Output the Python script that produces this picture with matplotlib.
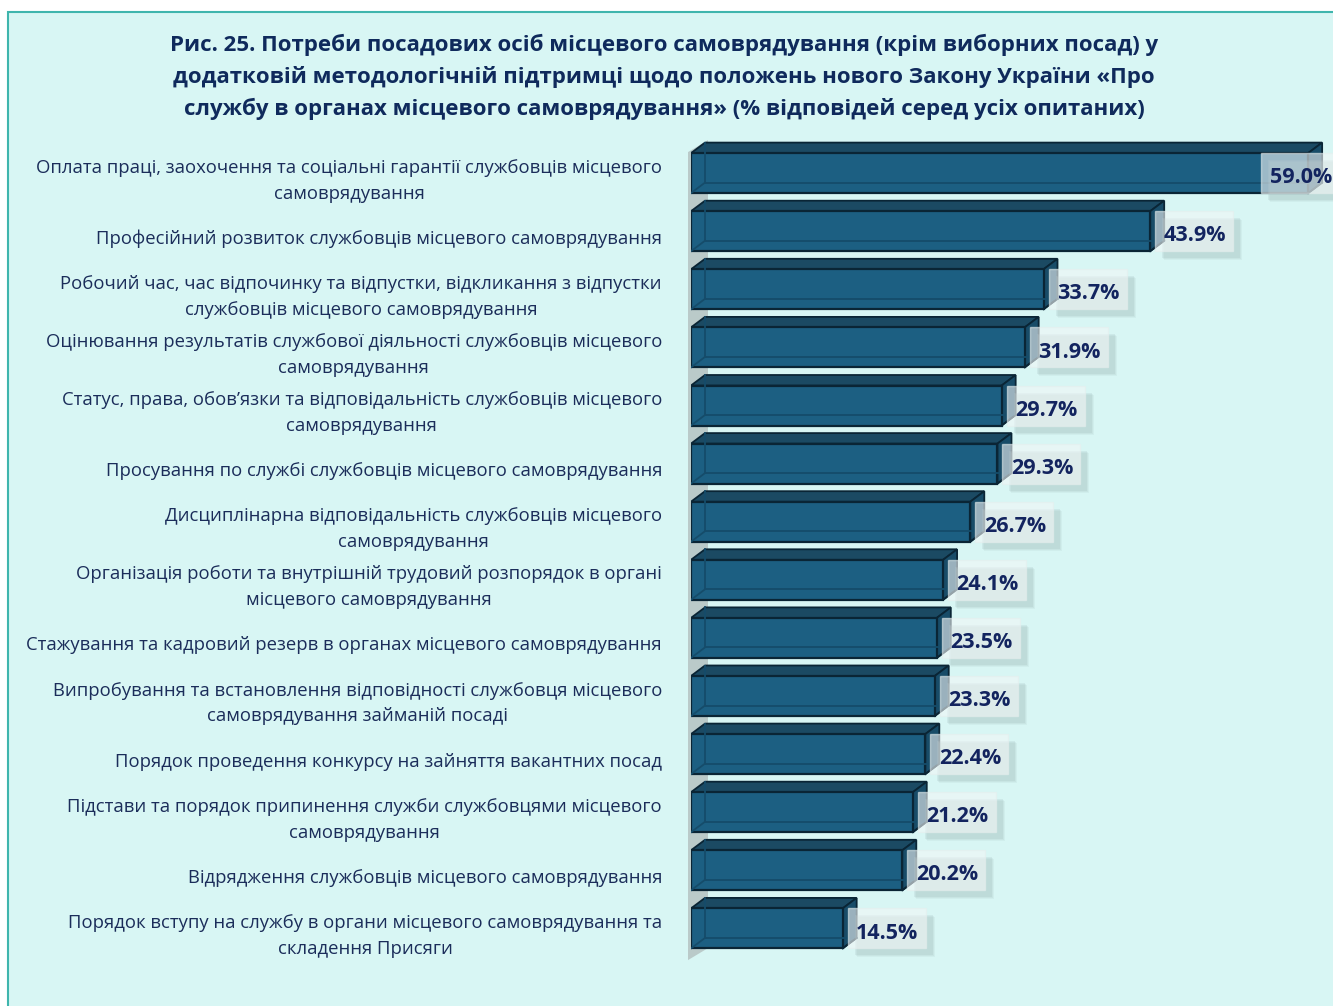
import matplotlib
matplotlib.use("Agg")
import matplotlib.pyplot as plt
from matplotlib.patches import Polygon, Rectangle

# data
categories = [
    "Оплата праці, заохочення та соціальні гарантії службовців місцевого\nсамоврядування",
    "Професійний розвиток службовців місцевого самоврядування",
    "Робочий час, час відпочинку та відпустки, відкликання з відпустки\nслужбовців місцевого самоврядування",
    "Оцінювання результатів службової діяльності службовців місцевого\nсамоврядування",
    "Статус, права, обов’язки та відповідальність службовців місцевого\nсамоврядування",
    "Просування по службі службовців місцевого самоврядування",
    "Дисциплінарна відповідальність службовців місцевого\nсамоврядування",
    "Організація роботи та внутрішній трудовий розпорядок в органі\nмісцевого самоврядування",
    "Стажування та кадровий резерв в органах місцевого самоврядування",
    "Випробування та встановлення відповідності службовця місцевого\nсамоврядування займаній посаді",
    "Порядок проведення конкурсу на зайняття вакантних посад",
    "Підстави та порядок припинення служби службовцями місцевого\nсамоврядування",
    "Відрядження службовців місцевого самоврядування",
    "Порядок вступу на службу в органи місцевого самоврядування та\nскладення Присяги",
]
values = [59.0, 43.9, 33.7, 31.9, 29.7, 29.3, 26.7, 24.1, 23.5, 23.3, 22.4, 21.2, 20.2, 14.5]

title = ("Рис. 25. Потреби посадових осіб місцевого самоврядування (крім виборних посад) у\n"
         "додатковій методологічній підтримці щодо положень нового Закону України «Про\n"
         "службу в органах місцевого самоврядування» (% відповідей серед усіх опитаних)")

W, H = 1333, 1006
fig = plt.figure(figsize=(W / 100, H / 100), dpi=100)
fig.patch.set_facecolor("white")

# cyan panel with teal border
panel = Rectangle((8 / W, -0.01), 1.2, 1.01 - 12 / H, transform=fig.transFigure,
                  facecolor="#d8f6f4", edgecolor="#3fb5ad", linewidth=1.5, zorder=-10)
fig.patches.append(panel)

fig.text(664 / W, 1 - 77 / H, title, ha="center", va="center", fontsize=16,
         fontweight="bold", color="#0f2a5c", family="Open Sans", linespacing=1.56)

# axes: x=0 at pixel 691, ~10.46 px per percent; rows 58.1 px apart, first row at 173 px
px_per_pct = 10.46
row_px = 58.1
ax_left, ax_top = 691, 115
ax_bottom = ax_top + 14.74 * row_px
ax = fig.add_axes([ax_left / W, 1 - ax_bottom / H, (W - ax_left) / W, (ax_bottom - ax_top) / H])
xmax = (W - ax_left) / px_per_pct
ax.set_xlim(0, xmax)
ax.set_ylim(13.74, -1.0)
ax.axis("off")

dx = 14 / px_per_pct     # depth in x (data units)
dy = 10.5 / row_px       # depth in y (data units)
hh = 20 / row_px         # half height of front face

front_col = "#1c5f82"
top_col = "#1b4a63"
side_col = "#184c68"
edge_col = "#0a2535"
inner_col = "#154c6a"

# grey side wall at the base
px2x = lambda p: (p - ax_left) / px_per_pct
px2y = lambda p: (p - 173) / row_px
wall = Polygon([(px2x(688), px2y(152)), (px2x(708), px2y(140)), (px2x(708), px2y(948)), (px2x(688), px2y(960))],
               closed=True, facecolor="#b5c3c2", edgecolor="none", alpha=0.85, zorder=1, clip_on=False)
ax.add_patch(wall)

gap = 5 / px_per_pct
bw = 78 / px_per_pct

for i, v in enumerate(values):
    y0, y1 = i - hh, i + hh
    # top face
    ax.add_patch(Polygon([(0, y0), (dx, y0 - dy), (v + dx, y0 - dy), (v, y0)], closed=True,
                         facecolor=top_col, edgecolor=edge_col, linewidth=1.3, zorder=2))
    # side face
    ax.add_patch(Polygon([(v, y0), (v + dx, y0 - dy), (v + dx, y1 - dy), (v, y1)], closed=True,
                         facecolor=side_col, edgecolor=edge_col, linewidth=1.3, zorder=2))
    # front face
    ax.barh(i, v, height=2 * hh, color=front_col, edgecolor=edge_col, linewidth=1.6, zorder=3)
    # hidden back edges seen through
    ax.plot([dx, dx, v + dx], [y0 - dy, y1 - dy, y1 - dy], color=inner_col, lw=1.3, zorder=4)
    ax.plot([0, dx], [y1, y1 - dy], color=inner_col, lw=1.3, zorder=4)
    ax.plot([v, v + dx], [y1, y1 - dy], color=edge_col, lw=1.3, zorder=4)

    # value label box with soft shadow
    bx = min(v + gap, xmax - bw * 0.92)
    for k, a in enumerate([0.10, 0.12, 0.16]):
        off = (3 - k) * 2.5
        ax.add_patch(Rectangle((bx + (6 + off * 0.4) / px_per_pct, y0 + (6 + off * 0.4) / row_px),
                               bw, 2 * hh, facecolor="#8fa9aa", edgecolor="none", alpha=a,
                               zorder=4, clip_on=False))
    ax.add_patch(Rectangle((bx, y0), bw, 2 * hh, facecolor="#f2f6f6", edgecolor="#e6eeee",
                           alpha=0.6, linewidth=1, zorder=5, clip_on=False))
    ax.text(bx + bw / 2 + 0.05, i + 0.08, f"{v:.1f}%", ha="center", va="center", fontsize=15.5,
            fontweight="bold", color="#13245f", family="Open Sans", zorder=6, clip_on=False)

    ax.text(-29 / px_per_pct, i + 7.5 / row_px, categories[i], ha="right", va="center",
            multialignment="center", fontsize=13.3, color="#1b2d5a", family="Open Sans",
            linespacing=1.56, clip_on=False)

fig.savefig("out.png", dpi=100, facecolor=fig.get_facecolor())
